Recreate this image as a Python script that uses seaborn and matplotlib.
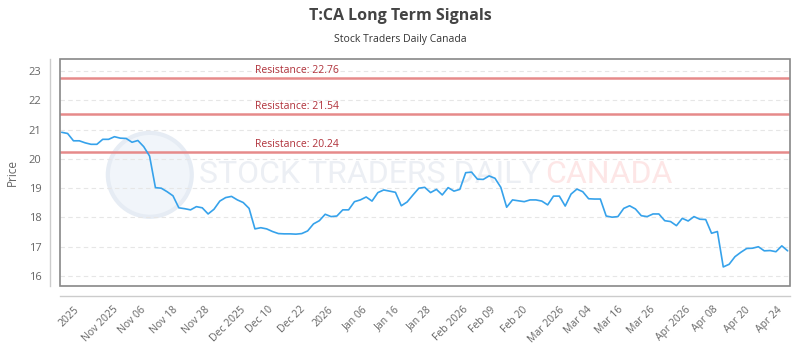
import numpy as np
import pandas as pd
import matplotlib
matplotlib.use('Agg')
import matplotlib.pyplot as plt
import seaborn as sns
from matplotlib.patches import Rectangle, Ellipse

# closing prices, one per trading day
prices = [
    20.91, 20.87, 20.62, 20.62, 20.55, 20.50, 20.50, 20.67, 20.67, 20.76,
    20.71, 20.70, 20.57, 20.63, 20.42, 20.10, 19.02, 19.00, 18.88, 18.74,
    18.33, 18.30, 18.26, 18.37, 18.33, 18.12, 18.28, 18.56, 18.68, 18.72,
    18.60, 18.51,
    18.31, 17.61, 17.65, 17.61, 17.52, 17.45, 17.44, 17.44, 17.43, 17.45,
    17.54, 17.78, 17.89, 18.11, 18.03, 18.05, 18.26, 18.26, 18.54, 18.60,
    18.70, 18.56, 18.85, 18.94, 18.90, 18.86, 18.40, 18.53, 18.77, 19.00,
    19.03,
    18.85, 18.96, 18.77, 19.02, 18.90, 18.96, 19.53, 19.55, 19.31, 19.30,
    19.42, 19.34, 19.03, 18.35, 18.60, 18.57, 18.54, 18.60, 18.60, 18.56,
    18.43, 18.73, 18.73, 18.39, 18.80, 18.97, 18.88, 18.64, 18.63, 18.63,
    18.05, 18.01,
    18.03, 18.31, 18.40, 18.29, 18.06, 18.03, 18.12, 18.12, 17.89, 17.86,
    17.72, 17.97, 17.88, 18.03, 17.94, 17.93, 17.46, 17.52, 16.31, 16.40,
    16.66, 16.81, 16.94, 16.95, 17.00, 16.86, 16.87, 16.83, 17.03, 16.86,
]

tick_labels = ['2025', 'Nov 2025', 'Nov 06', 'Nov 18', 'Nov 28', 'Dec 2025',
               'Dec 10', 'Dec 22', '2026', 'Jan 06', 'Jan 16', 'Jan 28',
               'Feb 2026', 'Feb 09', 'Feb 20', 'Mar 2026', 'Mar 04', 'Mar 16',
               'Mar 26', 'Apr 2026', 'Apr 08', 'Apr 20', 'Apr 24']

resistance = [22.76, 21.54, 20.24]

df = pd.DataFrame({'day': np.arange(len(prices)), 'price': prices})

sns.set_theme(style='white')
plt.rcParams['font.family'] = ['Open Sans', 'DejaVu Sans']

fig = plt.figure(figsize=(8, 3.5), dpi=100)
ax = fig.add_axes([0.075, 0.183, 0.9125, 0.648])

# faint watermark
ax.add_patch(Ellipse((0.123, 0.49), 0.115, 0.37, transform=ax.transAxes,
                     facecolor='#f1f5fa', edgecolor='#e6ecf4', lw=3, zorder=0))
ax.text(0.19, 0.49, 'STOCK TRADERS DAILY', transform=ax.transAxes, fontsize=23,
        color='#eceff4', va='center', ha='left', family='Roboto', zorder=0)
ax.text(0.665, 0.49, 'CANADA', transform=ax.transAxes, fontsize=23,
        color='#fde6e6', va='center', ha='left', family='Roboto', zorder=0)

for lvl in range(16, 24):
    ax.axhline(lvl, color='#e6e6e6', lw=0.8, ls=(0, (4, 3)), zorder=1)

for r in resistance:
    ax.axhline(r, color='#e68a8a', lw=1.8, zorder=2)
    ax.text(0.267, r + 0.07, f'Resistance: {r:.2f}', transform=ax.get_yaxis_transform(),
            color='#b0313a', fontsize=7.5, va='bottom', ha='left', zorder=3)

sns.lineplot(data=df, x='day', y='price', ax=ax, color='#36a2eb', lw=1.2, zorder=4)

ax.set_xlim(-0.3, 124.4)
ax.set_ylim(15.66, 23.41)
ax.set_yticks(range(16, 24))
ax.set_xticks(np.linspace(1.2, 120.8, len(tick_labels)), tick_labels)
ax.tick_params(axis='both', length=0, labelsize=7.5, colors='#666666')
ax.tick_params(axis='x', pad=6, labelrotation=45)
ax.tick_params(axis='y', pad=6, labelsize=8)
for lab in ax.get_xticklabels():
    lab.set_horizontalalignment('right')
    lab.set_rotation_mode('anchor')
ax.set_xlabel('')
ax.set_ylabel('Price', fontsize=8.5, color='#666666', labelpad=7)

for s in ['top', 'right']:
    ax.spines[s].set_visible(False)
for s in ['left', 'bottom']:
    ax.spines[s].set_position(('outward', 7.2))
    ax.spines[s].set_color('#cccccc')
    ax.spines[s].set_linewidth(1)
ax.add_patch(Rectangle((0, 0), 1, 1, transform=ax.transAxes, fill=False,
                       edgecolor='#888888', lw=1.2, clip_on=False, zorder=5))

fig.text(0.5, 0.955, 'T:CA Long Term Signals', ha='center', va='center',
         fontsize=11.5, fontweight='bold', color='#444444')
fig.text(0.5, 0.886, 'Stock Traders Daily Canada', ha='center', va='center',
         fontsize=7.5, color='#333333')

fig.savefig('out.png', dpi=100, facecolor='white')
